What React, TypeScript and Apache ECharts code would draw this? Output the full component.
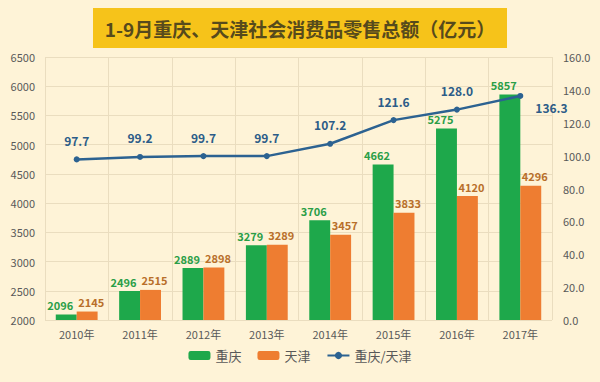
import React, { useEffect, useRef } from "react";
import * as echarts from "echarts";

const years = ["2010年", "2011年", "2012年", "2013年", "2014年", "2015年", "2016年", "2017年"];
const chongqing = [2096, 2496, 2889, 3279, 3706, 4662, 5275, 5857];
const tianjin = [2145, 2515, 2898, 3289, 3457, 3833, 4120, 4296];
const ratio = [97.7, 99.2, 99.7, 99.7, 107.2, 121.6, 128.0, 136.3];

const FONT = "'Noto Sans CJK SC', 'Noto Sans', sans-serif";

export default function App() {
  const ref = useRef<HTMLDivElement>(null);
  useEffect(() => {
    if (!ref.current) return;
    const chart = echarts.init(ref.current, undefined, { renderer: "svg" });
    chart.setOption({
      animation: false,
      backgroundColor: "#FEF3D7",
      textStyle: { fontFamily: FONT },
      graphic: [
        {
          type: "rect",
          shape: { x: 93, y: 8, width: 414, height: 40 },
          style: { fill: "#F6C31A" },
        },
        {
          type: "text",
          x: 300,
          y: 28,
          style: {
            text: "1-9月重庆、天津社会消费品零售总额（亿元）",
            fill: "#564A1C",
            font: `bold 19px ${FONT}`,
            align: "center",
            verticalAlign: "middle",
          },
        },
      ],
      grid: { left: 45, right: 48, top: 57, bottom: 62 },
      legend: {
        bottom: 15,
        left: "center",
        itemWidth: 22,
        itemHeight: 9,
        itemGap: 16,
        textStyle: { color: "#595959", fontSize: 13, fontFamily: FONT },
        data: ["重庆", "天津", "重庆/天津"],
      },
      xAxis: {
        type: "category",
        data: years,
        axisLine: { show: false },
        axisTick: { show: false },
        axisLabel: { color: "#595959", fontSize: 11, margin: 8 },
        splitLine: { show: true, lineStyle: { color: "#EADDBF", width: 1 } },
      },
      yAxis: [
        {
          type: "value",
          min: 2000,
          max: 6500,
          interval: 500,
          axisLine: { show: false },
          axisTick: { show: false },
          axisLabel: {
            color: "#595959",
            fontSize: 11,
            margin: 10,
            formatter: (v: number) => String(v),
          },
          splitLine: { lineStyle: { color: "#EADDBF", width: 1 } },
        },
        {
          type: "value",
          min: 0,
          max: 160,
          interval: 20,
          axisLine: { show: false },
          axisTick: { show: false },
          axisLabel: {
            color: "#595959",
            fontSize: 11,
            margin: 11,
            formatter: (v: number) => v.toFixed(1),
          },
          splitLine: { show: false },
        },
      ],
      series: [
        {
          name: "重庆",
          type: "bar",
          data: chongqing,
          barGap: "0%",
          barCategoryGap: "34%",
          itemStyle: { color: "#1EA84B" },
          label: {
            show: true,
            position: "top",
            distance: 4,
            offset: [-6, 0],
            color: "#2A9E47",
            fontWeight: "bold",
            fontSize: 11,
          },
        },
        {
          name: "天津",
          type: "bar",
          data: tianjin,
          itemStyle: { color: "#EE7D31" },
          label: {
            show: true,
            position: "top",
            distance: 4,
            offset: [4, 0],
            color: "#B86F2A",
            fontWeight: "bold",
            fontSize: 11,
          },
        },
        {
          name: "重庆/天津",
          type: "line",
          yAxisIndex: 1,
          data: ratio.map((v, i) =>
            i === ratio.length - 1
              ? { value: v, label: { position: "right", offset: [2, 12] } }
              : v
          ),
          symbol: "circle",
          symbolSize: 6,
          lineStyle: { color: "#2C6291", width: 2.5 },
          itemStyle: { color: "#2C6291" },
          label: {
            show: true,
            position: "top",
            distance: 10,
            color: "#2C5C88",
            fontWeight: "bold",
            fontSize: 12,
            formatter: (p: any) => Number(p.value).toFixed(1),
          },
        },
      ],
    });
    return () => chart.dispose();
  }, []);
  return <div ref={ref} style={{ width: 600, height: 382, position: "absolute", left: 0, top: 0 }} />;
}
